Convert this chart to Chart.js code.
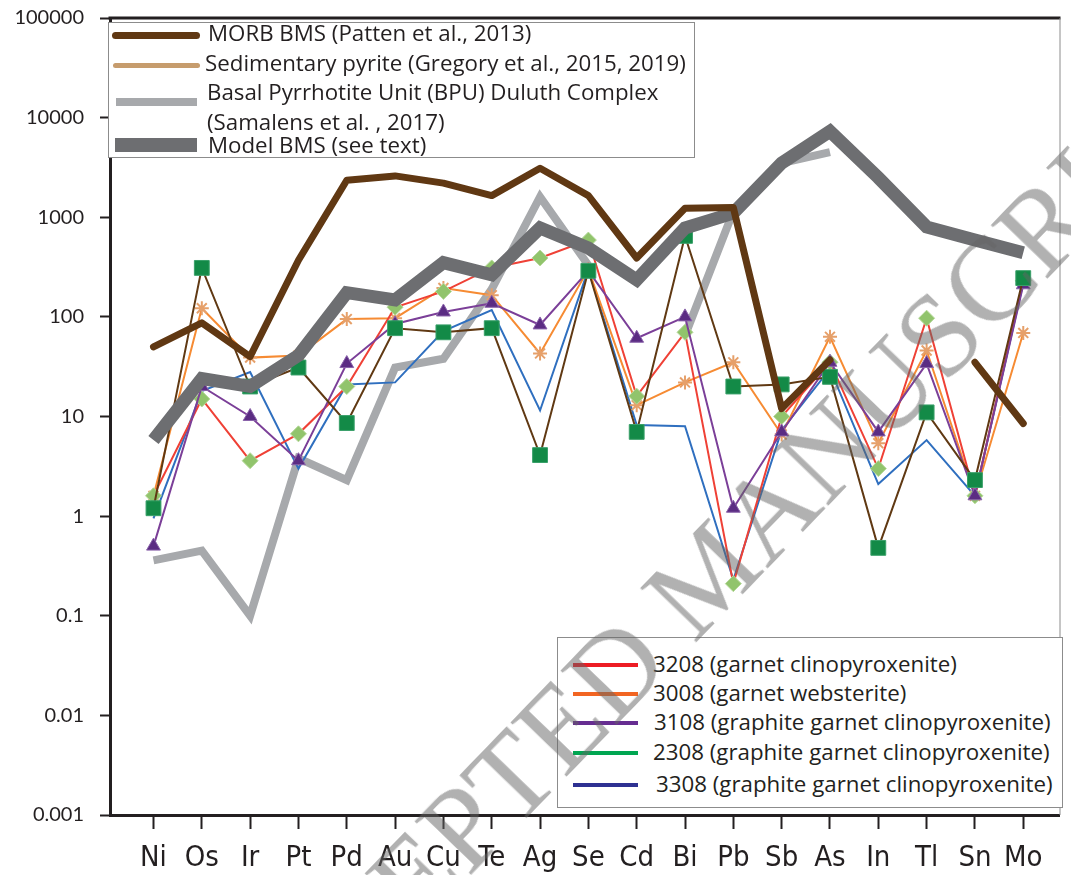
<!DOCTYPE html>
<html>
<head>
<meta charset="utf-8">
<script src="https://cdn.jsdelivr.net/npm/chart.js@4.4.1/dist/chart.umd.min.js"></script>
<style>
  html, body { margin: 0; padding: 0; background: #fff; }
  #wrap { position: relative; width: 1071px; height: 875px; overflow: hidden; }
  #chart { position: absolute; left: 0; top: 0; }
  .legend { position: absolute; background: #fff; border: 1px solid #8c8c8c; box-sizing: border-box;
            font-family: "Open Sans", Lato, sans-serif; font-size: 22.3px; color: #231f20; }
  .legend .sw { position: absolute; }
  .legend .tx { position: absolute; white-space: nowrap; line-height: 1; transform: translateY(-50%); }
  #watermark { position: absolute; left: 708px; top: 574px; white-space: nowrap;
               font-family: "Liberation Serif", "DejaVu Serif", serif; font-size: 118px; line-height: 1;
               color: rgba(100, 100, 100, 0.5); transform: translate(-50%, -50%) rotate(-46deg);
               pointer-events: none; }
</style>
</head>
<body>
<div id="wrap">
  <canvas id="chart" width="1071" height="875"></canvas>
  <div class="legend" id="legendTop"></div>
  <div class="legend" id="legendBottom"></div>
  <div id="watermark">ACCEPTED MANUSCRIPT</div>
</div>
<script>
// === Data ===
const elements = ["Ni", "Os", "Ir", "Pt", "Pd", "Au", "Cu", "Te", "Ag", "Se", "Cd", "Bi", "Pb", "Sb", "As", "In", "Tl", "Sn", "Mo"];
const yTicks = [0.001, 0.01, 0.1, 1, 10, 100, 1000, 10000, 100000];

// reference curves
const morbBMS   = [50, 87, 40, 370, 2350, 2600, 2200, 1650, 3100, 1650, 390, 1230, 1250, 12, 37, null, null, 35, 8.5];
const sedPyrite = [];
const bpuDuluth = [0.36, 0.45, 0.1, 3.8, 2.3, 31, 38, 190, 1600, 330, null, 65, 1150, 3500, 4500, null, null, null, null];
const modelBMS  = [5.8, 24, 20, 41, 175, 148, 350, 265, 780, 490, 235, 780, 1100, 3500, 7300, 2500, 800, 590, 440];

// samples
const s3208 = [1.6, 15, 3.6, 6.7, 20, 125, 180, 310, 390, 590, 16, 70, 0.21, 10, 35, 3.0, 97, 1.6, 230];
const s3008 = [1.6, 122, 39, 41, 95, 97, 195, 165, 43, 300, 13, 22, 35, 6.6, 63, 5.4, 46, 1.6, 69];
const s3108 = [0.5, 20, 10, 3.6, 34, 85, 112, 137, 83, 290, 61, 100, 1.2, 7.0, 35, 7.0, 34, 1.6, 210];
const s2308 = [1.2, 310, 20, 31, 8.6, 77, 70, 77, 4.1, 290, 7.0, 650, 20, 21, 25, 0.48, 11, 2.3, 245];
const s3308 = [0.95, 18, 28, 3.0, 21, 22, 72, 117, 11.5, 300, 8.2, 8.0, 0.23, 7.3, 30, 2.1, 5.8, 1.6, 220];

const toPts = arr => arr.map((v, i) => ({ x: i, y: v }));

// === Datasets ===
const datasets = [
  { label: "MORB BMS (Patten et al., 2013)", data: toPts(morbBMS), borderColor: "#603813", borderWidth: 7,
    pointRadius: 0, borderJoinStyle: "round", borderCapStyle: "round", order: 1 },
  { label: "Model BMS (see text)", data: toPts(modelBMS), borderColor: "#6d6e71", borderWidth: 13,
    pointRadius: 0, borderJoinStyle: "miter", order: 2 },
  { label: "2308", data: toPts(s2308), borderColor: "#603913", borderWidth: 2,
    pointStyle: "rect", pointRadius: 10.5, pointBackgroundColor: "#138a47", pointBorderColor: "#3aa06a", pointBorderWidth: 1, order: 3 },
  { label: "3108", data: toPts(s3108), borderColor: "#7b3f98", borderWidth: 2,
    pointStyle: "triangle", pointRadius: 8, pointBackgroundColor: "#5b2c83", pointBorderColor: "#8a63aa", pointBorderWidth: 1, order: 4 },
  { label: "3208", data: toPts(s3208), borderColor: "#ef4136", borderWidth: 2,
    pointStyle: "rectRot", pointRadius: 8, pointBackgroundColor: "#91c46c", pointBorderColor: "#b5d89a", pointBorderWidth: 1, order: 5 },
  { label: "3008", data: toPts(s3008), borderColor: "#f68b33", borderWidth: 2,
    pointStyle: "star", pointRadius: 7, pointBorderColor: "#e6a06a", pointBorderWidth: 2, order: 6 },
  { label: "3308", data: toPts(s3308), borderColor: "#2f6fbf", borderWidth: 2,
    pointRadius: 0, order: 7 },
  { label: "Sedimentary pyrite (Gregory et al., 2015, 2019)", data: toPts(sedPyrite), borderColor: "#c69c6d", borderWidth: 5,
    pointRadius: 0, order: 8 },
  { label: "Basal Pyrrhotite Unit (BPU) Duluth Complex", data: toPts(bpuDuluth), borderColor: "#a7a9ac", borderWidth: 8,
    pointRadius: 0, borderJoinStyle: "miter", order: 9 }
];
datasets.forEach(d => { d.fill = false; d.tension = 0; d.spanGaps = false; });

// === Frame (top + right borders) ===
const framePlugin = {
  id: "frame",
  afterDraw(chart) {
    const { ctx, chartArea: a } = chart;
    ctx.save();
    ctx.strokeStyle = "#231f20";
    ctx.lineWidth = 3;
    ctx.beginPath();
    ctx.moveTo(a.left - 1.5, a.top);
    ctx.lineTo(a.right + 1, a.top);
    ctx.stroke();
    ctx.strokeStyle = "#8c8c8c";
    ctx.lineWidth = 1;
    ctx.beginPath();
    ctx.moveTo(a.right + 0.5, a.top);
    ctx.lineTo(a.right + 0.5, a.bottom);
    ctx.stroke();
    ctx.restore();
  }
};

new Chart(document.getElementById("chart"), {
  type: "line",
  data: { datasets },
  plugins: [framePlugin],
  options: {
    responsive: false,
    animation: false,
    layout: { padding: { top: 18, right: 1, left: 0, bottom: 0 } },
    plugins: { legend: { display: false }, tooltip: { enabled: false } },
    scales: {
      x: {
        type: "linear",
        min: -0.9,
        max: 18.75,
        afterBuildTicks: s => { s.ticks = elements.map((e, i) => ({ value: i })); },
        afterFit: s => { s.height = 60; },
        ticks: {
          autoSkip: false, maxRotation: 0, padding: 12, color: "#231f20",
          font: { family: "'Liberation Sans Narrow', 'DejaVu Sans Condensed', Roboto, sans-serif", size: 29 },
          callback: v => elements[v]
        },
        grid: { drawOnChartArea: false, tickLength: 14, tickWidth: 2, tickColor: "#231f20" },
        border: { color: "#231f20", width: 3 }
      },
      y: {
        type: "logarithmic",
        min: 0.001,
        max: 100000,
        afterBuildTicks: s => { s.ticks = yTicks.map(v => ({ value: v, major: true })); },
        afterFit: s => { s.width = 110; s.paddingTop = 0; s.paddingBottom = 0; },
        ticks: {
          padding: 16, color: "#231f20",
          font: { family: "Lato, 'Open Sans', sans-serif", size: 20 },
          callback: v => String(v)
        },
        grid: { drawOnChartArea: false, tickLength: 10, tickWidth: 2, tickColor: "#231f20" },
        border: { color: "#231f20", width: 3 }
      }
    }
  }
});

// === Legends (HTML) ===
function buildLegend(el, box, rows) {
  Object.assign(el.style, { left: box.x + "px", top: box.y + "px", width: box.w + "px", height: box.h + "px" });
  rows.forEach(r => {
    const sw = document.createElement("div");
    sw.className = "sw";
    Object.assign(sw.style, {
      left: (r.x1 - box.x - 1) + "px", width: (r.x2 - r.x1) + "px",
      top: (r.y - box.y - 1 - r.w / 2) + "px", height: r.w + "px",
      background: r.color, borderRadius: r.round ? (r.w / 2) + "px" : "0"
    });
    el.appendChild(sw);
    r.text.forEach((t, k) => {
      const tx = document.createElement("div");
      tx.className = "tx";
      tx.textContent = t;
      tx.style.left = (r.tx - box.x - 1) + "px";
      tx.style.top = (r.ty[k] - box.y - 1) + "px";
      el.appendChild(tx);
    });
  });
}

buildLegend(document.getElementById("legendTop"), { x: 108, y: 22, w: 587, h: 136 }, [
  { text: [datasets[0].label], color: "#603813", w: 7, round: true, x1: 112, x2: 200, y: 35, tx: 208, ty: [33] },
  { text: [datasets[7].label], color: "#c69c6d", w: 5, round: true, x1: 113, x2: 200, y: 65, tx: 205, ty: [63] },
  { text: [datasets[8].label, "(Samalens et al. , 2017)"], color: "#a7a9ac", w: 8, x1: 116, x2: 197, y: 102, tx: 207, ty: [92, 122] },
  { text: [datasets[1].label], color: "#6d6e71", w: 14, x1: 115, x2: 197, y: 145, tx: 208, ty: [145] }
]);

buildLegend(document.getElementById("legendBottom"), { x: 557, y: 637, w: 506, h: 171 }, [
  { text: ["3208 (garnet clinopyroxenite)"], color: "#ed1c24", w: 4, x1: 573, x2: 638, y: 665, tx: 653, ty: [664] },
  { text: ["3008 (garnet websterite)"], color: "#f26522", w: 4, x1: 573, x2: 638, y: 694, tx: 653, ty: [693] },
  { text: ["3108 (graphite garnet clinopyroxenite)"], color: "#662d91", w: 4, x1: 573, x2: 638, y: 723, tx: 654, ty: [722] },
  { text: ["2308 (graphite garnet clinopyroxenite)"], color: "#00a651", w: 4, x1: 573, x2: 638, y: 753, tx: 653, ty: [752] },
  { text: ["3308 (graphite garnet clinopyroxenite)"], color: "#2e3192", w: 4, x1: 573, x2: 638, y: 785, tx: 656, ty: [784] }
]);
</script>
</body>
</html>
